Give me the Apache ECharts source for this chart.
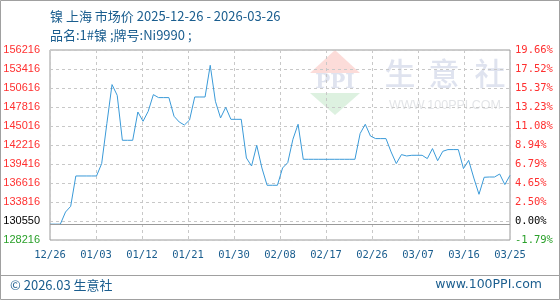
<!DOCTYPE html>
<html><head><meta charset="utf-8">
<script src="https://cdn.jsdelivr.net/npm/echarts@6/dist/echarts.min.js"></script>
<style>html,body{margin:0;padding:0;background:#fff}#c{width:560px;height:300px}</style>
</head><body><div id="c"></div>
<script>
const dates = [
'12/26','12/27','12/28','12/29','12/30','12/31',
'01/01','01/02','01/03','01/04','01/05','01/06','01/07','01/08','01/09','01/10','01/11','01/12','01/13','01/14','01/15','01/16','01/17','01/18','01/19','01/20','01/21','01/22','01/23','01/24','01/25','01/26','01/27','01/28','01/29','01/30','01/31',
'02/01','02/02','02/03','02/04','02/05','02/06','02/07','02/08','02/09','02/10','02/11','02/12','02/13','02/14','02/15','02/16','02/17','02/18','02/19','02/20','02/21','02/22','02/23','02/24','02/25','02/26','02/27','02/28',
'03/01','03/02','03/03','03/04','03/05','03/06','03/07','03/08','03/09','03/10','03/11','03/12','03/13','03/14','03/15','03/16','03/17','03/18','03/19','03/20','03/21','03/22','03/23','03/24','03/25'
];
const prices = [
130550,130550,130550,132340,133180,137650,137650,137650,137650,137650,
139480,145370,151120,149540,142910,142910,142910,147080,145710,147180,
149640,149200,149200,149200,146450,145610,145160,145900,149290,149290,
149290,153960,148660,146200,147770,146000,146000,146000,140300,139120,
142170,138830,136280,136280,136280,138830,139620,143060,145270,140110,
140110,140110,140110,140110,140110,140110,140110,140110,140110,140110,
143900,145270,143540,143160,143160,143160,141190,139480,140800,140600,
140700,140700,140700,140210,141690,139900,141290,141540,141540,141540,
138740,139960,137350,134950,137460,137500,137500,137940,136380,137750
];
const xLabels = ['12/26','01/03','01/12','01/21','01/30','02/08','02/17','02/26','03/07','03/16','03/25'];
const yLeftLabels = ['128216','130550','133816','136616','139416','142216','145016','147816','150616','153416','156216'];
const yRightLabels = ['-1.79%','0.00%','2.50%','4.65%','6.79%','8.94%','11.08%','13.23%','15.37%','17.52%','19.66%'];
const basePrice = 130550;
const yMin = 128216, yMax = 156216, yStep = 2800;

const chart = echarts.init(document.getElementById('c'), null, {renderer:'canvas'});
const blue = '#1b5e8f';
function yLab(labels){
  return function(v){
    const k = Math.round((v - yMin) / yStep);
    const s = labels[k];
    if (s === undefined) return '';
    return (k === 0 ? '{g|' : k === 1 ? '{k|' : '{r|') + s + '}';
  };
}
const richL = {r:{color:'#ff3030'}, g:{color:'#2aa02a'}, k:{color:'#000'}};
const wm = 'rgba(170,182,212,0.38)';
chart.setOption({
  animation:false,
  grid:{left:50,right:50,top:50,bottom:60,show:true,borderColor:'#9a9a9a',borderWidth:1,backgroundColor:'transparent'},
  xAxis:[
    {type:'category',data:dates,boundaryGap:false,show:false},
    {type:'value',min:0,max:10,interval:1,position:'bottom',
     axisLine:{show:false},axisTick:{show:false},
     splitLine:{show:true,lineStyle:{color:'#c8c8c8',type:[3,3]}},
     axisLabel:{margin:10,color:blue,fontSize:10.5,fontFamily:'DejaVu Sans Mono',
       formatter:v=>xLabels[Math.round(v)]}}
  ],
  yAxis:[
    {type:'value',position:'left',min:yMin,max:yMax,interval:yStep,
     axisLine:{show:false},axisTick:{show:false},
     splitLine:{show:true,lineStyle:{color:'#c8c8c8',type:[3,3]}},
     axisLabel:{margin:10,fontSize:11,fontFamily:'Liberation Sans',formatter:yLab(yLeftLabels),rich:richL}},
    {type:'value',position:'right',min:yMin,max:yMax,interval:yStep,
     axisLine:{show:false},axisTick:{show:false},splitLine:{show:false},
     axisLabel:{margin:5,fontSize:10.5,fontFamily:'DejaVu Sans Mono',formatter:yLab(yRightLabels),rich:richL}}
  ],
  series:[{
    type:'line',data:prices,xAxisIndex:0,yAxisIndex:0,symbol:'none',
    lineStyle:{color:'#3a9ad8',width:1},
    markLine:{silent:true,symbol:'none',label:{show:false},
      lineStyle:{color:'#9a9a9a',type:'solid',width:1},data:[{yAxis:basePrice}]}
  }],
  graphic:[
    {type:'rect',shape:{x:0.5,y:0.5,width:559,height:299},style:{fill:'none',stroke:'#a0a0a0',lineWidth:1},z:-1},
    {type:'line',shape:{x1:0,y1:275.5,x2:560,y2:275.5},style:{stroke:'#a0a0a0',lineWidth:1}},
    // watermark
    {type:'polygon',shape:{points:[[310,73],[360,73],[335,50]]},style:{fill:'rgba(245,130,120,0.28)'},z:-2},
    {type:'text',x:335,y:83,style:{text:'PPI',fill:wm,font:'bold 20px "DejaVu Serif"',align:'center',verticalAlign:'middle'},z:-2},
    {type:'polygon',shape:{points:[[310,93],[360,93],[335,115]]},style:{fill:'rgba(120,200,130,0.25)'},z:-2},
    {type:'text',x:400,y:73,style:{text:'生',fill:wm,font:'500 31px "Noto Sans CJK SC"',align:'center',verticalAlign:'middle'},z:-2},
    {type:'text',x:444,y:73,style:{text:'意',fill:wm,font:'500 31px "Noto Sans CJK SC"',align:'center',verticalAlign:'middle'},z:-2},
    {type:'text',x:490,y:73,style:{text:'社',fill:wm,font:'500 31px "Noto Sans CJK SC"',align:'center',verticalAlign:'middle'},z:-2},
    {type:'text',x:445,y:106,style:{text:'WWW.100PPI.COM',fill:'rgba(160,165,175,0.3)',font:'12.5px "Liberation Sans"',align:'center',verticalAlign:'middle'},z:-2},
    // titles
    {type:'text',x:50,y:16,style:{text:'镍 上海 市场价 2025-12-26 - 2026-03-26',fill:blue,font:'13px "Noto Sans CJK SC"',verticalAlign:'middle'}},
    {type:'text',x:50,y:35,style:{text:'品名:1#镍 ;牌号:Ni9990 ;',fill:blue,font:'13px "Noto Sans CJK SC"',verticalAlign:'middle'}},
    // footer
    {type:'text',x:10,y:285,style:{text:'© 2026.03 生意社',fill:blue,font:'13px "Noto Sans CJK SC"',verticalAlign:'middle'}},
    {type:'text',x:542,y:285,style:{text:'www.100PPI.com',fill:blue,font:'12.5px "DejaVu Sans"',align:'right',verticalAlign:'middle'}}
  ]
});
</script></body></html>
